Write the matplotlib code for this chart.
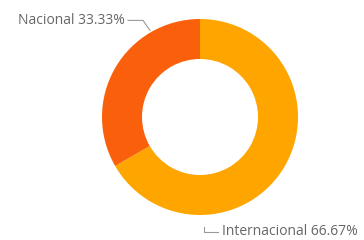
import numpy as np
import matplotlib
matplotlib.use('Agg')
from matplotlib import pyplot as plt

labels = ['Internacional', 'Nacional']
values = [66.67, 33.33]
colors = ['#FFA500', '#FA600C']
# angle (degrees clockwise from top) where each leader line starts
anchor_angles = [178, 330]

W, H = 364, 240
cx, cy = 200, 240 - 117
radius = 98
ring = 40

fig = plt.figure(figsize=(W / 100, H / 100), dpi=100)
ax = fig.add_axes([0, 0, 1, 1])
ax.pie(values, colors=colors, center=(cx, cy), radius=radius, startangle=90,
       counterclock=False, wedgeprops=dict(width=ring, linewidth=0))
ax.set_xlim(0, W)
ax.set_ylim(0, H)
ax.set_aspect('equal')
ax.axis('off')

font = dict(family=['Open Sans', 'DejaVu Sans'], fontsize=10, color='#666666')
line_kw = dict(color='#9a9a9a', lw=0.8)


def edge_point(angle, r):
    a = np.deg2rad(90 - angle)
    return cx + r * np.cos(a), cy + r * np.sin(a)


# Nacional: label upper left
x0, y0 = edge_point(anchor_angles[1], radius + 2)
ax.plot([x0, x0 - 7, x0 - 22], [y0, y0 + 10, y0 + 10], **line_kw)
ax.text(x0 - 25, y0 + 10, '%s %.2f%%' % (labels[1], values[1]),
        ha='right', va='center', **font)

# Internacional: label below
x1, y1 = edge_point(anchor_angles[0], radius + 12)
ax.plot([x1, x1, x1 + 14], [y1, y1 - 5, y1 - 5], **line_kw)
ax.text(x1 + 18, y1 - 5, '%s %.2f%%' % (labels[0], values[0]),
        ha='left', va='center', **font)

fig.savefig('out.png', dpi=100)
